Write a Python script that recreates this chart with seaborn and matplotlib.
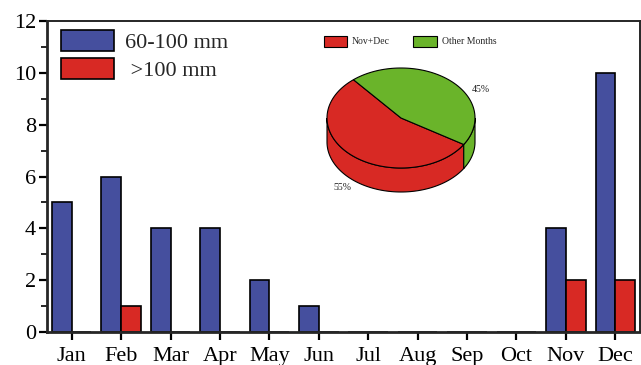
import numpy as np
import pandas as pd
import matplotlib
matplotlib.use("Agg")
import matplotlib.pyplot as plt
from matplotlib.patches import Polygon, Patch
import seaborn as sns

# Monthly counts of heavy-rain days by intensity class
months = ["Jan", "Feb", "Mar", "Apr", "May", "Jun",
          "Jul", "Aug", "Sep", "Oct", "Nov", "Dec"]
moderate = [5, 6, 4, 4, 2, 1, 0, 0, 0, 0, 4, 10]   # 60-100 mm
heavy = [0, 1, 0, 0, 0, 0, 0, 0, 0, 0, 2, 2]       # >100 mm
classes = ["60-100 mm", " >100 mm"]

# Share of events: Nov+Dec vs the rest of the year
pie_labels = ["Nov+Dec", "Other Months"]
pie_values = [55, 45]

blue = "#454f9e"
red = "#d82924"
green = "#6ab42a"

df = pd.DataFrame({
    "month": months * 2,
    "count": moderate + heavy,
    "class": [classes[0]] * len(months) + [classes[1]] * len(months),
})

sns.set_theme(style="ticks")
plt.rcParams["font.family"] = ["Liberation Serif", "DejaVu Serif"]

W, H = 641, 365
fig = plt.figure(figsize=(W / 100, H / 100), dpi=100)
ax = fig.add_axes([47 / W, (H - 332) / H, (640 - 47) / W, (332 - 21) / H])

sns.barplot(data=df, x="month", y="count", hue="class", order=months,
            hue_order=classes, palette=[blue, red], saturation=1,
            width=0.8, edgecolor="black", linewidth=1.2, ax=ax, legend=True)

ax.set_xlim(-0.5, 11.5)
ax.set_ylim(0, 12)
ax.set_yticks(np.arange(0, 13, 2))
ax.set_yticks(np.arange(1, 12, 2), minor=True)
ax.set_xlabel("")
ax.set_ylabel("")
for s in ["left", "bottom"]:
    ax.spines[s].set_linewidth(2.0)
for s in ["top", "right"]:
    ax.spines[s].set_visible(True)
    ax.spines[s].set_linewidth(1.4)
ax.tick_params(axis="both", which="major", length=6, width=1.6,
               labelsize=16, direction="out", pad=2, colors="black")
ax.tick_params(axis="y", which="minor", length=4, width=1.4, direction="out")
ax.tick_params(axis="x", pad=5)

ax.legend(loc="upper left", bbox_to_anchor=(0.008, 1.0), frameon=False,
          fontsize=16, handlelength=2.4, handleheight=1.1,
          handletextpad=0.5, labelspacing=0.2, borderaxespad=0.0)
for p in ax.get_legend().get_patches():
    p.set_edgecolor("black")
    p.set_linewidth(1.2)

# Pseudo-3D pie drawn on a full-figure overlay in pixel units
ov = fig.add_axes([0, 0, 1, 1], zorder=5)
ov.set_xlim(0, W)
ov.set_ylim(0, H)
ov.axis("off")
ov.patch.set_alpha(0)

cx, cy, rx, ry, depth = 401, H - 118, 74, 50, 24
start = 130.0
pie_colors = [red, green]


def ellipse_pts(a0, a1, dy=0.0, n=80):
    t = np.radians(np.linspace(a0, a1, n))
    return np.column_stack([cx + rx * np.cos(t), cy + ry * np.sin(t) - dy])


fracs = np.array(pie_values, dtype=float) / sum(pie_values)
edges = start + 360 * np.concatenate([[0], np.cumsum(fracs)])

# side walls (front half of the disc only)
for i, col in enumerate(pie_colors):
    a0, a1 = edges[i], edges[i + 1]
    for lo, hi in [(180, 360), (540, 720)]:
        s0, s1 = max(a0, lo), min(a1, hi)
        if s1 > s0:
            top = ellipse_pts(s0, s1)
            bot = ellipse_pts(s1, s0, dy=depth)
            ov.add_patch(Polygon(np.vstack([top, bot]), closed=True,
                                 facecolor=col, edgecolor="black", lw=0.8))

# top face
for i, col in enumerate(pie_colors):
    arc = ellipse_pts(edges[i], edges[i + 1])
    ov.add_patch(Polygon(np.vstack([[cx, cy], arc]), closed=True,
                         facecolor=col, edgecolor="black", lw=0.8))

label_pos = [(342, H - 188), (481, H - 90)]
for (x, y), v in zip(label_pos, pie_values):
    ov.text(x, y, f"{v}%", fontsize=7, ha="center", va="center",
            color="#222222")

handles = [Patch(facecolor=c, edgecolor="black", lw=0.8) for c in pie_colors]
ov.legend(handles, pie_labels, loc="upper left",
          bbox_to_anchor=(322 / W, (H - 34) / H), ncol=2, frameon=False,
          fontsize=7, handlelength=2.4, handleheight=1.3,
          handletextpad=0.5, columnspacing=2.4, borderaxespad=0,
          borderpad=0.2)

fig.savefig("out.png", dpi=100)
